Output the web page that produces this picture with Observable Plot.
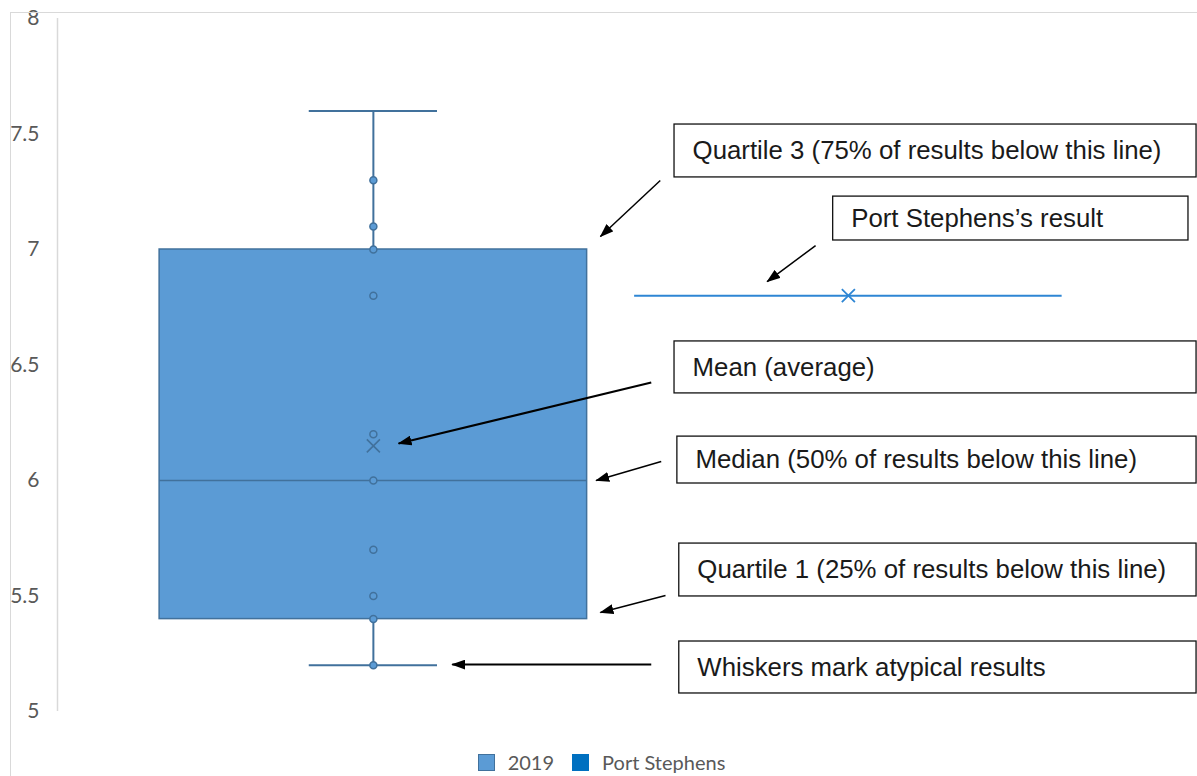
<!DOCTYPE html>
<html>
<head>
<meta charset="utf-8">
<script src="https://cdn.jsdelivr.net/npm/d3@7"></script>
<script src="https://cdn.jsdelivr.net/npm/@observablehq/plot@0.6"></script>
<style>
  html, body { margin: 0; padding: 0; background: #fff; }
  #wrap { position: relative; width: 1197px; height: 776px; overflow: hidden; }
  #frame { position: absolute; left: 10px; top: 12px; right: -2px; bottom: -2px;
           border-left: 1.5px solid #d9d9d9; border-top: 1.5px solid #d9d9d9; pointer-events: none; }
  #chart { position: absolute; left: 0; top: 0; }
  #legend { position: absolute; left: 3px; top: 751px; width: 1197px; text-align: center; line-height: 22px;
            font-family: Lato, "Open Sans", sans-serif; font-size: 20px; color: #595959; }
  #legend span.item { display: inline-flex; align-items: center; margin: 0 9px; }
  #legend span.sw { display: inline-block; width: 17px; height: 17px; margin-right: 13px; box-sizing: border-box; }
</style>
</head>
<body>
<div id="wrap">
  <div id="chart"></div>
  <div id="frame"></div>
  <div id="legend"></div>
</div>
<script>
// ---- data ----
const seriesNames = ["2019", "Port Stephens"];
const boxStats = { min: 5.2, q1: 5.4, median: 6.0, q3: 7.0, max: 7.6, mean: 6.15 };
const pointValues = [7.3, 7.1, 7.0, 6.8, 6.2, 6.0, 5.7, 5.5, 5.4, 5.2];
const portStephensValue = 6.8;
const yTicks = [5, 5.5, 6, 6.5, 7, 7.5, 8];

const annotationTexts = [
  "Quartile 3 (75% of results below this line)",
  "Port Stephens\u2019s result",
  "Mean (average)",
  "Median (50% of results below this line)",
  "Quartile 1 (25% of results below this line)",
  "Whiskers mark atypical results"
];

// ---- layout helpers (positions in chart units: x = series index, y = value) ----
const boxIdx = 0, psIdx = 1;
const halfW = 0.45, capHalf = 0.135;
const annBoxes = [
  { x1: 0.634, x2: 1.733, y1: 7.312, y2: 7.541, text: annotationTexts[0] },
  { x1: 0.968, x2: 1.716, y1: 7.039, y2: 7.229, text: annotationTexts[1] },
  { x1: 0.634, x2: 1.733, y1: 6.377, y2: 6.602, text: annotationTexts[2] },
  { x1: 0.640, x2: 1.733, y1: 5.987, y2: 6.190, text: annotationTexts[3] },
  { x1: 0.644, x2: 1.733, y1: 5.498, y2: 5.727, text: annotationTexts[4] },
  { x1: 0.644, x2: 1.733, y1: 5.078, y2: 5.303, text: annotationTexts[5] }
];
const arrows = [
  { x1: 0.604, y1: 7.299, x2: 0.478, y2: 7.056, w: 1.5 },
  { x1: 0.931, y1: 7.017, x2: 0.829, y2: 6.861, w: 1.5 },
  { x1: 0.585, y1: 6.424, x2: 0.053, y2: 6.160, w: 2 },
  { x1: 0.606, y1: 6.082, x2: 0.469, y2: 6.000, w: 1.5 },
  { x1: 0.615, y1: 5.502, x2: 0.478, y2: 5.429, w: 1.5 },
  { x1: 0.585, y1: 5.203, x2: 0.166, y2: 5.203, w: 2 }
];

function triHead(color, context) {
  const m = d3.create("svg:marker")
    .attr("viewBox", "0 -5 14 10")
    .attr("refX", 13).attr("refY", 0)
    .attr("markerWidth", 14).attr("markerHeight", 10)
    .attr("markerUnits", "userSpaceOnUse")
    .attr("orient", "auto")
    .attr("fill", "#000").attr("stroke", "none");
  m.append("path").attr("d", "M0,-5L14,0L0,5Z");
  return m.node();
}

const boxColor = "#5b9bd5", boxStroke = "#41719c", psColor = "#2e86d4";

const plot = Plot.plot({
  width: 1197,
  height: 754,
  marginLeft: 57,
  marginRight: 0,
  marginTop: 18,
  marginBottom: 43,
  style: { background: "transparent", overflow: "visible", fontFamily: "Lato, 'Open Sans', sans-serif",
           fontSize: "21px", color: "#595959" },
  x: { domain: [-0.665, 1.735], axis: null },
  y: { domain: [5, 8], ticks: yTicks, tickSize: 0, tickPadding: 18, label: null,
       tickFormat: d => String(d) },
  marks: [
    Plot.ruleX([0], { x: () => -0.665, y1: 5, y2: 8, stroke: "#d9d9d9", strokeWidth: 1.5 }),
    // whisker line
    Plot.ruleX([boxStats], { x: () => boxIdx, y1: "min", y2: "max", stroke: boxStroke, strokeWidth: 2 }),
    // caps
    Plot.ruleY([boxStats.min, boxStats.max], { y: d => d, x1: () => boxIdx - capHalf, x2: () => boxIdx + capHalf, stroke: boxStroke, strokeWidth: 2 }),
    // box
    Plot.rect([boxStats], { x1: () => boxIdx - halfW, x2: () => boxIdx + halfW, y1: "q1", y2: "q3", fill: boxColor, stroke: boxStroke, strokeWidth: 1.5 }),
    // median
    Plot.ruleY([boxStats], { y: "median", x1: () => boxIdx - halfW, x2: () => boxIdx + halfW, stroke: boxStroke, strokeWidth: 1.5 }),
    // points
    Plot.dot(pointValues, { x: () => boxIdx, y: d => d, r: 3.5, fill: boxColor, stroke: boxStroke, strokeWidth: 1.5 }),
    // mean
    Plot.dot([boxStats], { x: () => boxIdx, y: "mean", symbol: "times", r: 6, stroke: boxStroke, strokeWidth: 1.6 }),
    // Port Stephens
    Plot.ruleY([portStephensValue], { y: d => d, x1: () => psIdx - halfW, x2: () => psIdx + halfW, stroke: psColor, strokeWidth: 2 }),
    Plot.dot([portStephensValue], { x: () => psIdx, y: d => d, symbol: "times", r: 6, stroke: psColor, strokeWidth: 1.8 }),
    // annotations
    Plot.rect(annBoxes, { x1: "x1", x2: "x2", y1: "y1", y2: "y2", fill: "#fff", stroke: "#111", strokeWidth: 1.3, clip: false }),
    Plot.text(annBoxes, { x: d => d.x1 + 0.038, y: d => (d.y1 + d.y2) / 2, text: "text", textAnchor: "start",
      fontFamily: "Liberation Sans, Arial, sans-serif", fontSize: 25.8, fill: "#1a1a1a" }),
    Plot.link(arrows, { x1: "x1", y1: "y1", x2: "x2", y2: "y2", stroke: "#000", strokeWidth: "w", markerEnd: triHead })
  ]
});

document.getElementById("chart").appendChild(plot);

// legend
const legend = d3.select("#legend");
const items = [
  { name: seriesNames[0], fill: boxColor, stroke: boxStroke },
  { name: seriesNames[1], fill: "#0070c0", stroke: "#0070c0" }
];
items.forEach(it => {
  const s = legend.append("span").attr("class", "item");
  s.append("span").attr("class", "sw").style("background", it.fill).style("border", `1.5px solid ${it.stroke}`);
  s.append("span").text(it.name);
});
</script>
</body>
</html>
